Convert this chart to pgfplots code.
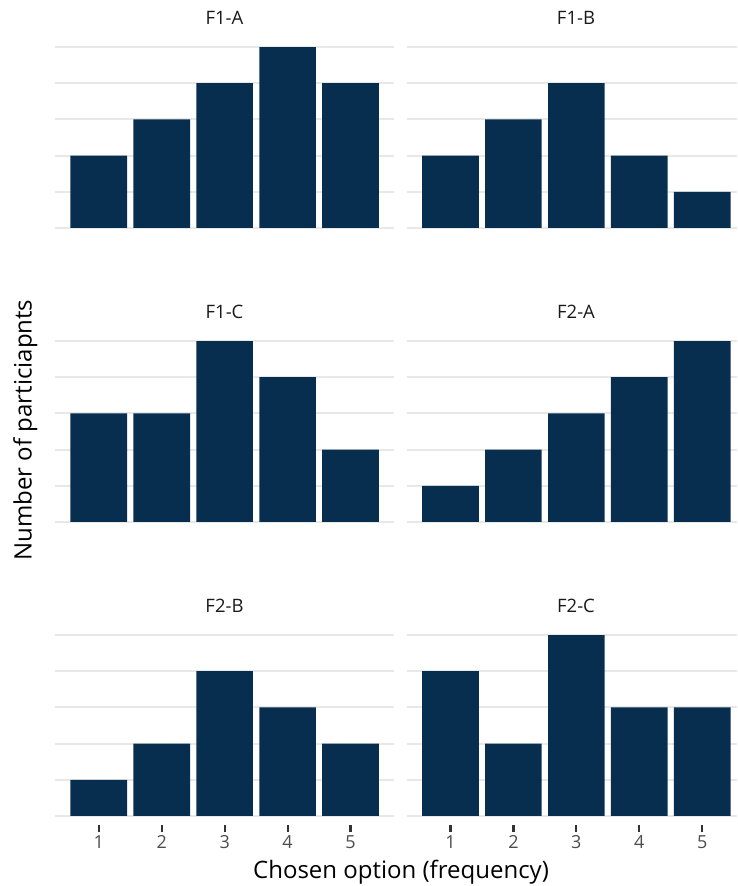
\documentclass[border=0pt]{standalone}
\usepackage{pgfplots}
\pgfplotsset{compat=1.18}
\usepackage{fontspec}
\setmainfont{Open Sans}

\definecolor{barblue}{HTML}{082E4F}
\definecolor{gridgrey}{HTML}{E8E8E8}
\definecolor{ticklab}{HTML}{4D4D4D}
\definecolor{tickgrey}{HTML}{333333}
\definecolor{striptext}{HTML}{1A1A1A}

\pgfplotsset{
  facet/.style={
    scale only axis, anchor=south west,
    height=199pt,
    ymin=-0.25, ymax=5.25, xmin=0.305,
    axis line style={draw=none},
    ytick={0,...,5}, yticklabels={}, ymajorgrids,
    major grid style={draw=gridgrey, line width=2pt},
    ytick style={draw=none},
    xtick=\empty,
    /pgf/number format/assume math mode=true,
    title style={anchor=base, yshift=7pt, inner sep=0pt,
      font=\fontsize{18.5}{21}\selectfont, text=striptext},
  },
  left col/.style={width=339pt, xmax=5.69, title style={at={(0.5,1)}}},
  right col/.style={width=330.3pt, xmax=5.552, title style={at={(0.5126,1)}}},
  bottom row/.style={
    xtick={1,2,3,4,5}, xtick pos=bottom, tick align=outside,
    major tick length=7pt,
    every tick/.style={draw=tickgrey, line width=2.2pt},
    xticklabel style={font=\fontsize{18}{21}\selectfont, text=ticklab},
  },
  bars/.style={ybar, bar width=0.9, fill=barblue, draw=none},
}

\begin{document}
\begin{tikzpicture}[x=1pt,y=1pt]
\useasboundingbox (0,0) rectangle (737,886);

% row 1
\begin{axis}[facet, left col, at={(55pt,649pt)}, title={F1-A}]
  \addplot[bars] coordinates {(1,2) (2,3) (3,4) (4,5) (5,4)};
\end{axis}
\begin{axis}[facet, right col, at={(406.7pt,649pt)}, title={F1-B}]
  \addplot[bars] coordinates {(1,2) (2,3) (3,4) (4,2) (5,1)};
\end{axis}

% row 2
\begin{axis}[facet, left col, at={(55pt,355pt)}, title={F1-C}]
  \addplot[bars] coordinates {(1,3) (2,3) (3,5) (4,4) (5,2)};
\end{axis}
\begin{axis}[facet, right col, at={(406.7pt,355pt)}, title={F2-A}]
  \addplot[bars] coordinates {(1,1) (2,2) (3,3) (4,4) (5,5)};
\end{axis}

% row 3
\begin{axis}[facet, left col, bottom row, at={(55pt,61pt)}, title={F2-B}]
  \addplot[bars] coordinates {(1,1) (2,2) (3,4) (4,3) (5,2)};
\end{axis}
\begin{axis}[facet, right col, bottom row, at={(406.7pt,61pt)}, title={F2-C}]
  \addplot[bars] coordinates {(1,4) (2,2) (3,5) (4,3) (5,3)};
\end{axis}

% shared axis titles
\node[anchor=base, inner sep=0pt, font=\fontsize{24}{28}\selectfont]
  at (401,8) {Chosen option (frequency)};
\node[anchor=base, rotate=90, inner sep=0pt, font=\fontsize{24}{28}\selectfont]
  at (31.5,456) {Number of particiapnts};
\end{tikzpicture}
\end{document}
